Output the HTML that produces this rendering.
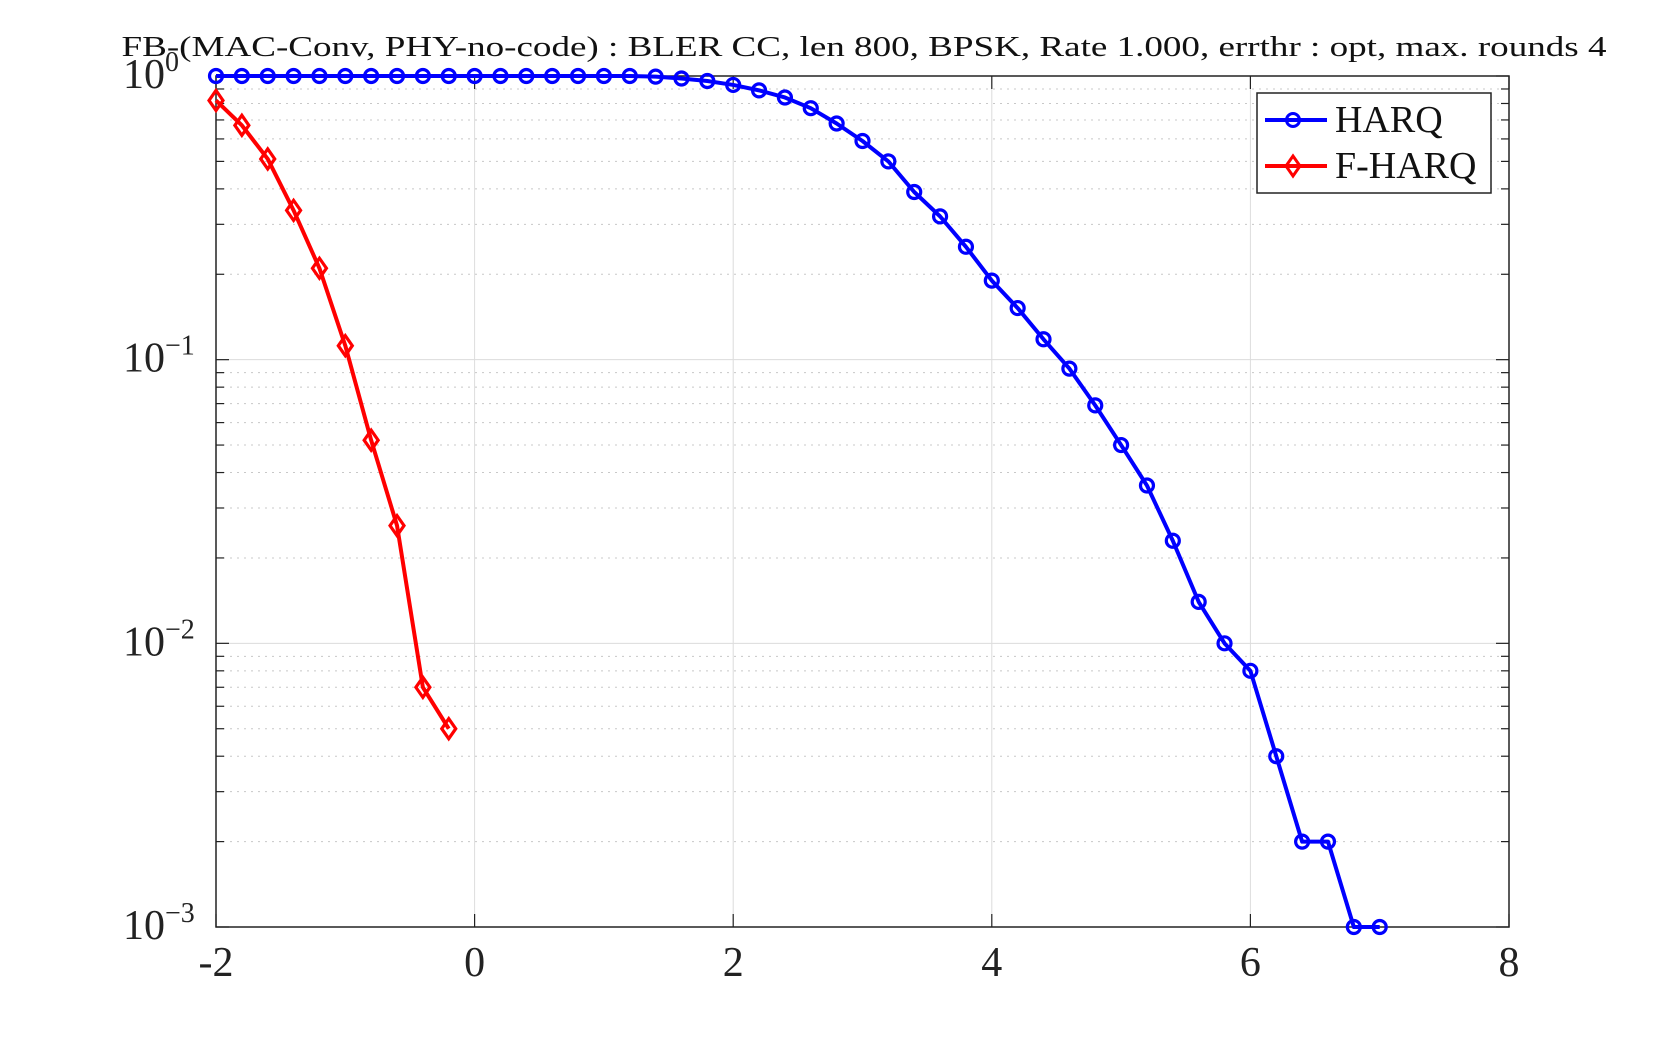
<!DOCTYPE html>
<html><head><meta charset="utf-8"><style>
html,body{margin:0;padding:0;background:#fff;}
svg{display:block;font-family:"Liberation Serif",serif;}
</style></head><body>
<svg id="chart" width="1667" height="1042" viewBox="0 0 1667 1042">
<rect x="0" y="0" width="1667" height="1042" fill="#fff"/>
<text x="864" y="56" text-anchor="middle" font-size="28" textLength="1485" lengthAdjust="spacingAndGlyphs" fill="#111">FB-(MAC-Conv, PHY-no-code) : BLER CC, len 800, BPSK, Rate 1.000, errthr : opt, max. rounds 4</text>
<g id="grid"></g>
<g id="axes"></g>
<g id="series"></g>
<g id="legend">
<rect x="1257" y="93" width="234" height="100" fill="#fff" stroke="#222" stroke-width="1.5"/>
<g>
<line x1="1265" y1="120" x2="1327" y2="120" stroke="#0000ff" stroke-width="4"/>
<circle cx="1293" cy="120" r="6.5" fill="none" stroke="#0000ff" stroke-width="3"/>
<text x="1335" y="132" font-size="38" fill="#111">HARQ</text>
</g>
<g>
<line x1="1265" y1="166" x2="1327" y2="166" stroke="#ff0000" stroke-width="4"/>
<polygon points="1293,156 1300,166 1293,176 1286,166" fill="none" stroke="#ff0000" stroke-width="3"/>
<text x="1335" y="178" font-size="38" fill="#111">F-HARQ</text>
</g>
</g>
</svg>
<script>
const xTicks = [-2, 0, 2, 4, 6, 8];
const xTickLabels = ["-2", "0", "2", "4", "6", "8"];
const yDecades = [-3, -2, -1, 0];
const yTickLabels = ["\u22123", "\u22122", "\u22121", "0"];
const harqX = [-2,-1.8,-1.6,-1.4,-1.2,-1,-0.8,-0.6,-0.4,-0.2,0,0.2,0.4,0.6,0.8,1,1.2,1.4,1.6,1.8,2,2.2,2.4,2.6,2.8,3,3.2,3.4,3.6,3.8,4,4.2,4.4,4.6,4.8,5,5.2,5.4,5.6,5.8,6,6.2,6.4,6.6,6.8,7];
const harqY = [1,1,1,1,1,1,1,1,1,1,1,1,1,1,1,1,1,0.995,0.98,0.96,0.93,0.89,0.84,0.77,0.68,0.59,0.5,0.39,0.32,0.25,0.19,0.152,0.118,0.093,0.069,0.05,0.036,0.023,0.014,0.01,0.008,0.004,0.002,0.002,0.001,0.001];
const fharqX = [-2,-1.8,-1.6,-1.4,-1.2,-1,-0.8,-0.6,-0.4,-0.2];
const fharqY = [0.82,0.67,0.51,0.336,0.21,0.112,0.052,0.026,0.007,0.005];

const L=216,R=1509,T=76,B=927;
const xMin=-2,xMax=8,yMinLog=-3,yMaxLog=0;
function sx(v){return L+(v-xMin)/(xMax-xMin)*(R-L);}
function sy(v){return B-(Math.log10(v)-yMinLog)/(yMaxLog-yMinLog)*(B-T);}
const NS="http://www.w3.org/2000/svg";
function mk(tag,attrs,parent){const e=document.createElementNS(NS,tag);for(const k in attrs)e.setAttribute(k,attrs[k]);parent.appendChild(e);return e;}
const grid=document.getElementById('grid'),axes=document.getElementById('axes'),series=document.getElementById('series');

xTicks.forEach((t)=>{
  const g=mk('line',{x1:sx(t),x2:sx(t),y1:T,y2:B,stroke:'#dcdcdc','stroke-width':1},grid);
  
  
});
yDecades.forEach((d)=>{
  const v=Math.pow(10,d);
  const g=mk('line',{x1:L,x2:R,y1:sy(v),y2:sy(v),stroke:'#dcdcdc','stroke-width':1},grid);
  
  
  if(d<0){
    for(let m=2;m<=9;m++){
      const mv=m*v;
      const y=sy(mv);
      const mg=mk('line',{x1:L,x2:R,y1:y,y2:y,stroke:'#c8c8c8','stroke-width':1,'stroke-dasharray':'2 5'},grid);
      
      
      const t1=mk('line',{x1:L,x2:L+8,y1:y,y2:y,stroke:'#222','stroke-width':1.2},axes);
      
      
      const t2=mk('line',{x1:R-8,x2:R,y1:y,y2:y,stroke:'#222','stroke-width':1.2},axes);
      
      
    }
  }
});
const box=mk('rect',{x:L,y:T,width:R-L,height:B-T,fill:'none',stroke:'#222','stroke-width':1.5},axes);


xTicks.forEach((t,i)=>{
  const x=sx(t);
  const a=mk('line',{x1:x,x2:x,y1:B,y2:B-13,stroke:'#222','stroke-width':1.2},axes);
  
  
  const b=mk('line',{x1:x,x2:x,y1:T,y2:T+13,stroke:'#222','stroke-width':1.2},axes);
  
  
  const lb=mk('text',{x:x,y:976,'text-anchor':'middle','font-size':42,fill:'#222'},axes);
  lb.textContent=xTickLabels[i];
  
  
});
yDecades.forEach((d,i)=>{
  const y=sy(Math.pow(10,d));
  const a=mk('line',{x1:L,x2:L+13,y1:y,y2:y,stroke:'#222','stroke-width':1.2},axes);
  
  
  const b=mk('line',{x1:R-13,x2:R,y1:y,y2:y,stroke:'#222','stroke-width':1.2},axes);
  
  
  const lb=mk('text',{x:123,y:y+12,'font-size':42,fill:'#222'},axes);
  
  
  lb.textContent='10';
  const sup=mk('tspan',{dy:-17,'font-size':28},lb);
  sup.textContent=yTickLabels[i];
});
function drawSeries(xs,ys,color,marker,name){
  const g=mk('g',{},series);
  
  
  const pts=xs.map((x,i)=>sx(x)+','+sy(ys[i])).join(' ');
  const pl=mk('polyline',{points:pts,fill:'none',stroke:color,'stroke-width':4,'stroke-linejoin':'round'},g);
  
  
  xs.forEach((x,i)=>{
    const cx=sx(x),cy=sy(ys[i]);
    let m;
    if(marker==='o'){m=mk('circle',{cx:cx,cy:cy,r:6.5,fill:'none',stroke:color,'stroke-width':3.2},g);}
    else{m=mk('polygon',{points:`${cx},${cy-10} ${cx+7},${cy} ${cx},${cy+10} ${cx-7},${cy}`,fill:'none',stroke:color,'stroke-width':3.2},g);}
    
    
  });
}
drawSeries(harqX,harqY,'#0000ff','o','harq-series');
drawSeries(fharqX,fharqY,'#ff0000','d','f-harq-series');
</script>
</body></html>
